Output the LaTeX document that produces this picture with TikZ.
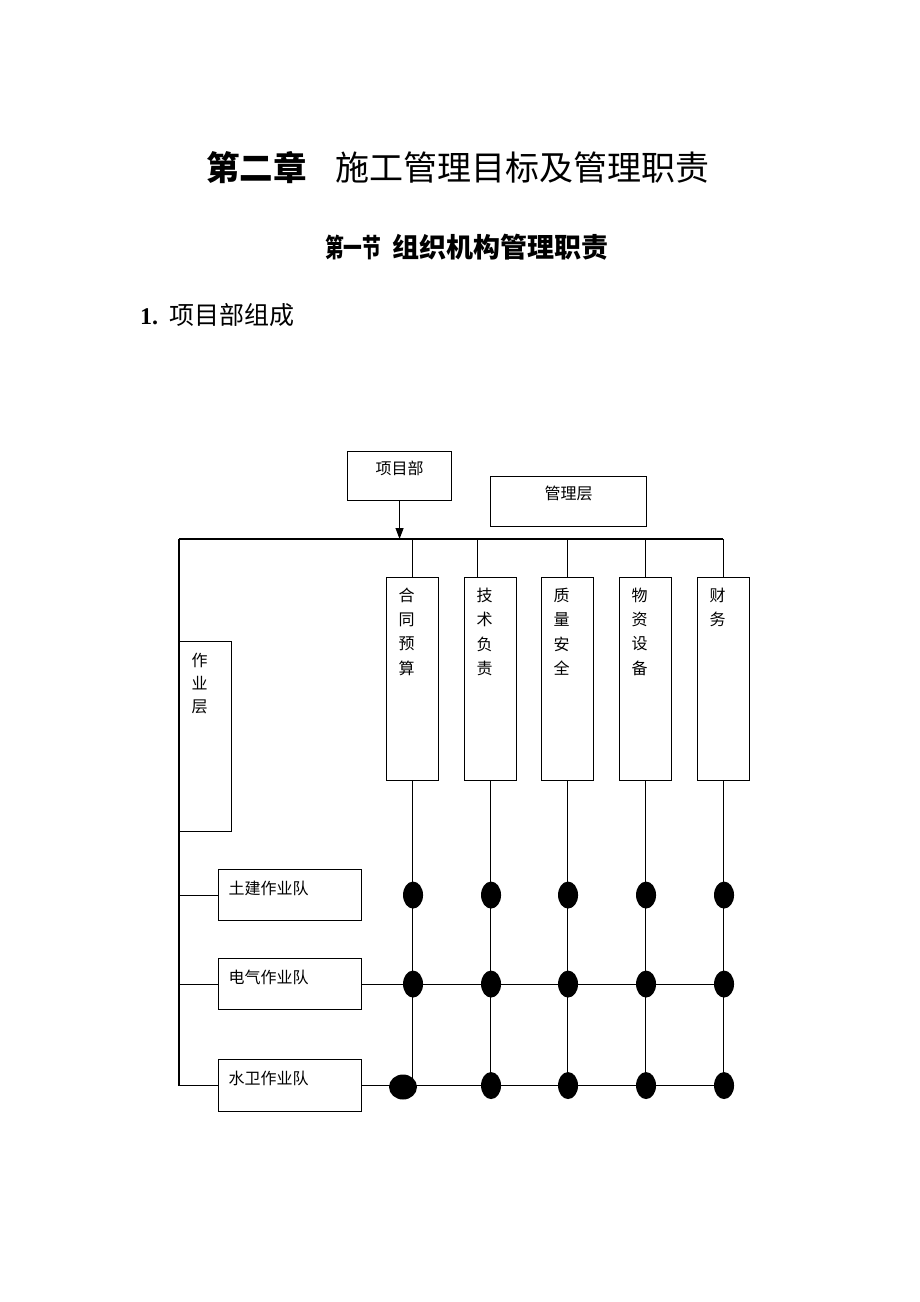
\documentclass[tikz,border=0pt]{standalone}
\usepackage{fontspec}
\setmainfont{Liberation Serif}
\newfontfamily\cjk{Noto Sans CJK SC}
\usetikzlibrary{calc, shapes, arrows.meta, positioning}

\tikzset{
  caixa/.style 2 args={draw, line width=1.1pt, inner sep=0pt, anchor=north west, minimum width=#1, minimum height=#2},
  ponto/.style={ellipse, fill=black, inner sep=0pt, minimum width=20, minimum height=27},
  linha/.style={line width=1.1pt},
}

\begin{document}
\begin{tikzpicture}[x=1pt, y=-1pt, font=\cjk\fontsize{16}{16}\selectfont]
    \useasboundingbox (0,0) rectangle (920,1302);
    % titulos
    \node[anchor=base west, inner sep=0pt, font=\cjk\bfseries\fontsize{33.5}{34}\selectfont] (cap) at (206,180) {第二章};
    \node[anchor=base west, inner sep=0pt, font=\cjk\fontsize{34}{34}\selectfont] (tit) at (335,180) {施工管理目标及管理职责};
    \node[anchor=base west, inner sep=0pt, font=\cjk\bfseries\fontsize{26}{26}\selectfont, xscale=0.72, transform shape] (sec) at (325,257) {第一节};
    \node[anchor=base west, inner sep=0pt, font=\cjk\bfseries\fontsize{27}{27}\selectfont] (secT) at (392,257) {组织机构管理职责};
    \node[anchor=base west, font=\bfseries\fontsize{24}{24}\selectfont, inner sep=0pt] (num) at (140,324) {1.};
    \node[anchor=base west, font=\cjk\fontsize{25}{25}\selectfont, inner sep=0pt] (item) at (169,324) {项目部组成};

    % caixas de cima
    \node[caixa={104}{49}] (pm) at (347,451) {};
    \node at ($(pm.north)+(0,17)$) (pmT) {项目部};
    \node[caixa={156}{50}] (gl) at (490,476) {};
    \node at ($(gl.north)+(0,17)$) (glT) {管理层};

    % linha de cima e linha da esquerda
    \coordinate (topoE) at (179,539);
    \coordinate (topoD) at (723,539);
    \draw[linha] (topoE) -- (topoD);
    \draw[linha, -{Triangle[length=11pt, width=8pt]}] (pm.south) -- (pm.south |- topoE);

    % camada de operacao
    \node[caixa={52}{190}] (zy) at (179,641) {};
    \foreach \c [count=\i] in {作,业,层}
        \node (zy-\i) at ($(zy.north)+(-6,{19+23.5*(\i-1)})$) {\c};
    \node[caixa={143}{51}] (tj) at (218,869) {};
    \node[anchor=west] (tjT) at ($(tj.north west)+(7,19)$) {土建作业队};
    \node[caixa={143}{51}] (dq) at (218,958) {};
    \node[anchor=west] (dqT) at ($(dq.north west)+(7,19)$) {电气作业队};
    \node[caixa={143}{52}] (sw) at (218,1059) {};
    \node[anchor=west] (swT) at ($(sw.north west)+(7,19)$) {水卫作业队};
    \draw[linha] (topoE) |- (sw.west);
    \draw[linha] (tj.west -| topoE) -- (tj.west);
    \draw[linha] (dq.west -| topoE) -- (dq.west);
    \draw[linha] (dq.east) -- (dq.east -| topoD); % linha do eletrico
    \draw[linha] (sw.east) -- (sw.east -| topoD); % linha do hidraulico

    % caixas de gerencia, colunas e pontos
    \foreach \nome/\x/\txt in {mA/386/{合,同,预,算}, mB/464/{技,术,负,责}, mC/541/{质,量,安,全}, mD/619/{物,资,设,备}, mE/697/{财,务}} {
        \node[caixa={52}{203}] (\nome) at (\x,577) {};
        \foreach \c [count=\i] in \txt
            \node (\nome-\i) at ($(\nome.north)+(-6,{18+24.5*(\i-1)})$) {\c};
        \draw[linha] (\nome.south) -- (\nome.south |- sw.east);
        \node[ponto] (\nome-p1) at ($(\nome.south |- tj.west)+(0.5,0)$) {};
        \node[ponto] (\nome-p2) at ($(\nome.south |- dq.west)+(0.5,0)$) {};
    }
    \draw[linha] (mA.north) -- (mA.north |- topoD);
    \draw[linha] ([xshift=-13pt]mB.north) -- ([xshift=-13pt]mB.north |- topoD); % fora do centro
    \draw[linha] (mC.north) -- (mC.north |- topoD);
    \draw[linha] (mD.north) -- (mD.north |- topoD);
    \draw[linha] (mE.north) -- (mE.north |- topoD);
    \node[ponto, minimum width=28, minimum height=25] (mA-p3) at (403,1087) {}; % ponto maior
    \foreach \nome in {mB, mC, mD, mE}
        \node[ponto] (\nome-p3) at ($(\nome.south |- sw.west)+(0.5,0)$) {};
\end{tikzpicture}
\end{document}
